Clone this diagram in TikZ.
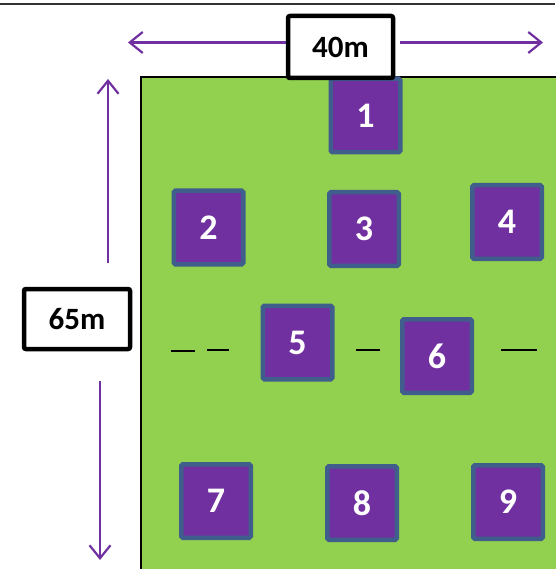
\documentclass[tikz,border=0pt]{standalone}
\usepackage{fontspec}
\setmainfont{Carlito}
\usetikzlibrary{arrows.meta}
\definecolor{fieldgreen}{RGB}{146,208,80}
\definecolor{plotpurple}{RGB}{112,48,160}
\definecolor{plotedge}{RGB}{64,94,140}
\tikzset{
  plot/.style={draw=plotedge, line width=4.5pt, fill=plotpurple, rounded corners=1.5pt,
    minimum width=69.5pt, minimum height=73.5pt, inner sep=0pt, text=white,
    font=\fontsize{36}{36}\selectfont\bfseries},
  dimbox/.style={draw=black, line width=4.5pt, fill=white, rounded corners=2pt, inner sep=0pt,
    font=\fontsize{31}{31}\selectfont\bfseries},
  dimarrow/.style={draw=plotpurple, line width=2.2pt, -{Straight Barb[length=13pt,width=21pt,line width=2.2pt]}},
  gapline/.style={draw=black, line width=1.5pt}
}
\begin{document}
\begin{tikzpicture}[x=1pt,y=-1pt]
\useasboundingbox (0,0) rectangle (555,569);
\fill[white] (0,0) rectangle (555,569);
% top rule
\draw[line width=2pt, black!80] (0,4) -- (555,4);
% field
\fill[fieldgreen] (141,77) rectangle (556,570);
\draw[line width=1.8pt, black] (141,570) -- (141,77) -- (556,77);
% plots
\node[plot] (p1) at (365.5,115.5) {1};
\node[plot] (p2) at (208.5,227.5) {2};
\node[plot] (p3) at (364,229) {3};
\node[plot] (p4) at (507,222) {4};
\node[plot] (p5) at (297.5,342.5) {5};
\node[plot] (p6) at (437,356) {6};
\node[plot] (p7) at (216,501) {7};
\node[plot] (p8) at (362,503) {8};
\node[plot] (p9) at (508,502) {9};
% dashes
\draw[gapline] (171,351) -- (195,351);
\draw[gapline] (207,350) -- (229,350);
\draw[gapline] (356,350) -- (380,350);
\draw[gapline] (501,350) -- (537,350);
% dimension boxes
\node[dimbox, minimum width=105pt, minimum height=62pt] (w) at (340.5,47) {40m};
\node[dimbox, minimum width=106pt, minimum height=60pt] (h) at (77,319) {65m};
\coordinate (wl) at (128,42.5);
\coordinate (wr) at (543,42.5);
\coordinate (ht) at (108,79);
\coordinate (hts) at (108,263);
\coordinate (hbs) at (100,381);
\coordinate (hb) at (100,560);
\draw[dimarrow] (w.west |- wl) -- (wl);
\draw[dimarrow] ([xshift=5pt]w.east |- wr) -- (wr);
\draw[dimarrow] (hts) -- (ht);
\draw[dimarrow] (hbs) -- (hb);
\end{tikzpicture}
\end{document}
